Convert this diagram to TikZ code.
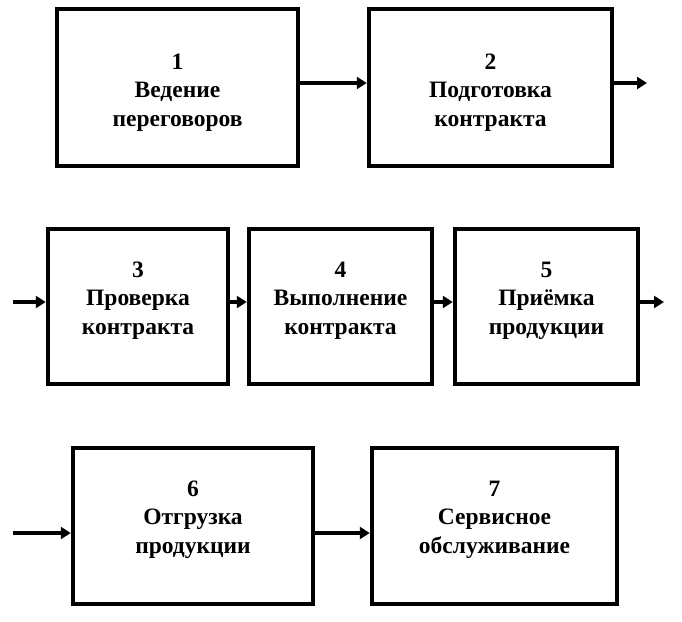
\documentclass[tikz,border=0pt]{standalone}
\usepackage{fontspec}
\setmainfont{Liberation Serif}
\usetikzlibrary{arrows.meta}
\tikzset{
  stage/.style={draw=black, line width=4.5pt, fill=white, inner sep=0pt},
  stagetext/.style={inner sep=0pt, align=center, font=\fontsize{23.5}{28.5}\selectfont\bfseries},
  flow/.style={line width=4.5pt, -{Triangle[length=10pt,width=12pt]}}
}
\begin{document}
\begin{tikzpicture}[x=1pt,y=-1pt]
\useasboundingbox (0,0) rectangle (682,621);
% row 1
\node[stage, minimum width=241pt, minimum height=157pt] (b1) at (177.5,87.5) {};
\node[stage, minimum width=243pt, minimum height=157pt] (b2) at (490.5,87.5) {};
% row 2
\node[stage, minimum width=180pt, minimum height=155pt] (b3) at (138,306.5) {};
\node[stage, minimum width=183pt, minimum height=155pt] (b4) at (340.5,306.5) {};
\node[stage, minimum width=183pt, minimum height=155pt] (b5) at (546.5,306.5) {};
% row 3
\node[stage, minimum width=240pt, minimum height=156pt] (b6) at (193,526) {};
\node[stage, minimum width=245pt, minimum height=156pt] (b7) at (494.5,526) {};
% texts
\node[stagetext] (t1) at ([yshift=-5pt]b1.center) {1\\Ведение\\переговоров};
\node[stagetext] (t2) at ([yshift=-5pt]b2.center) {2\\Подготовка\\контракта};
\node[stagetext] (t3) at ([yshift=6pt]b3.center) {3\\Проверка\\контракта};
\node[stagetext] (t4) at ([yshift=6pt]b4.center) {4\\Выполнение\\контракта};
\node[stagetext] (t5) at ([yshift=6pt]b5.center) {5\\Приёмка\\продукции};
\node[stagetext] (t6) at ([yshift=6.5pt]b6.center) {6\\Отгрузка\\продукции};
\node[stagetext] (t7) at ([yshift=6.5pt]b7.center) {7\\Сервисное\\обслуживание};
% free ends
\coordinate (o2) at (647,83);
\coordinate (i3) at (13,302);
\coordinate (o5) at (664,302);
\coordinate (i6) at (13,533);
% connectors
\draw[flow] ([yshift=4.5pt]b1.east) -- ([yshift=4.5pt]b2.west);
\draw[flow] ([yshift=4.5pt]b2.east) -- (o2);
\draw[flow] (i3) -- ([yshift=4.5pt]b3.west);
\draw[flow] ([yshift=4.5pt]b3.east) -- ([yshift=4.5pt]b4.west);
\draw[flow] ([yshift=4.5pt]b4.east) -- ([yshift=4.5pt]b5.west);
\draw[flow] ([yshift=4.5pt]b5.east) -- (o5);
\draw[flow] (i6) -- ([yshift=-7pt]b6.west);
\draw[flow] ([yshift=-7pt]b6.east) -- ([yshift=-7pt]b7.west);
\end{tikzpicture}
\end{document}
